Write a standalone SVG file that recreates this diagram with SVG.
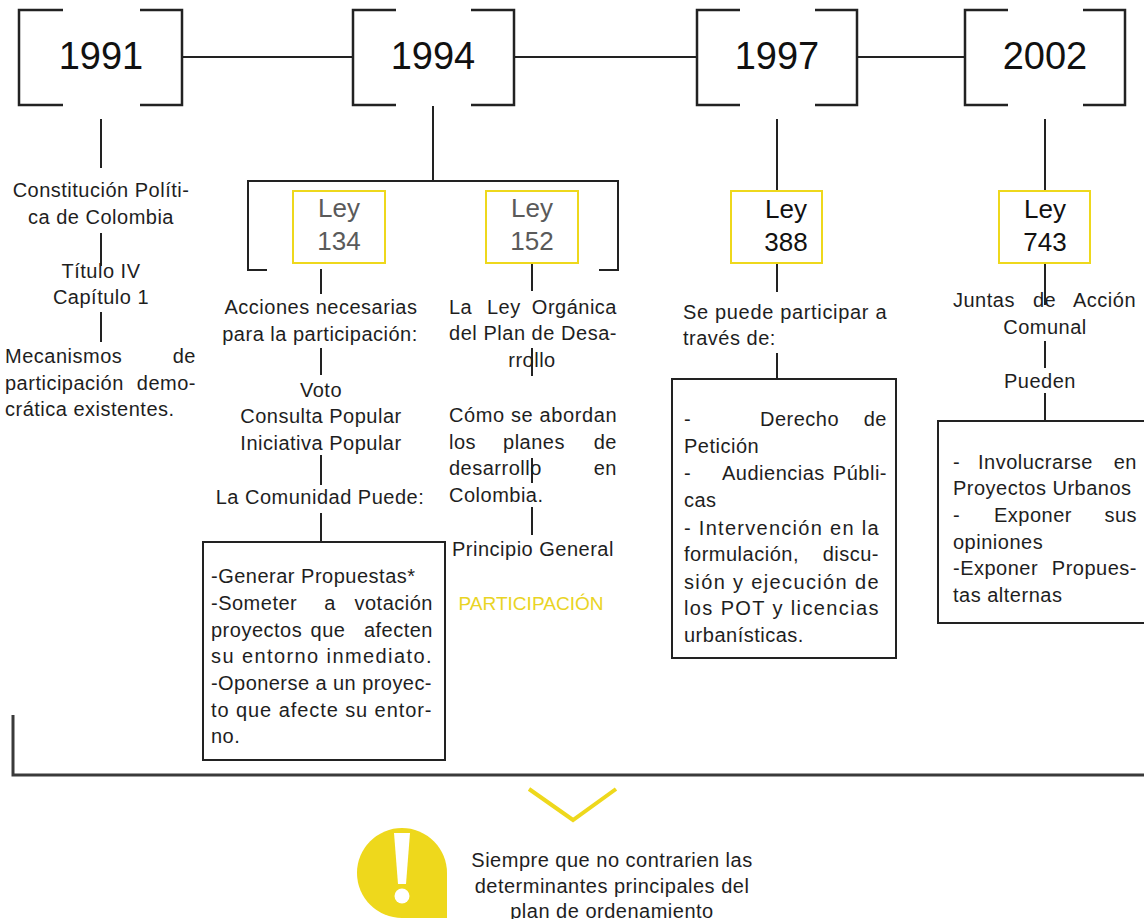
<svg xmlns="http://www.w3.org/2000/svg" width="1144" height="919" viewBox="0 0 1144 919">
<style>
.t{font-family:"Liberation Sans",Arial,sans-serif;font-size:20px;letter-spacing:0.5px;fill:#1e1e1e}
.c{text-anchor:middle}
.e{text-anchor:end}
.yr{font-family:"Liberation Sans",Arial,sans-serif;font-size:38px;fill:#111;text-anchor:middle}
.ley{font-family:"Liberation Sans",Arial,sans-serif;font-size:26px;text-anchor:middle;fill:#111}
.grey{fill:#5a5a5a}
.ln{stroke:#222;stroke-width:2;fill:none}
.br{stroke:#222;stroke-width:2.5;fill:none}
.yb{fill:#fff;stroke:#EED81C;stroke-width:2}
.bx{fill:#fff;stroke:#222;stroke-width:2}
.yel{fill:#E9D424}
</style>
<rect width="1144" height="919" fill="#fff"/>

<g id="connectors">
<path class="ln" d="M182,57 H353 M514,57 H697 M857,57 H965"/>
<path class="ln" d="M101,119 V168 M101,233 V266 M101,312 V342"/>
<path class="ln" d="M433,106 V181 M267,270 H248 V181 H618 V270 H599"/>
<path class="ln" d="M321,269 V294 M321,348 V375 M321,455 V485 M321,513 V542"/>
<path class="ln" d="M532,263 V291 M532,348 V376 M532,458 V483 M532,507 V535"/>
<path class="ln" d="M777,119 V191 M777,264 V292 M777,353 V379"/>
<path class="ln" d="M1045,119 V191 M1045,264 V305 M1045,341 V368 M1045,393 V421"/>
<path class="ln" d="M13,715 V775 H1144" style="stroke:#3a3a3a;stroke-width:3"/>
</g>

<g id="y1991">
<path class="br" d="M63,10 H19 V105 H63 M140,10 H182 V105 H140"/>
<text class="yr" x="101" y="69">1991</text>
</g>
<g id="y1994">
<path class="br" d="M396,10 H353 V105 H396 M471,10 H514 V105 H471"/>
<text class="yr" x="433" y="69">1994</text>
</g>
<g id="y1997">
<path class="br" d="M740,10 H697 V105 H740 M815,10 H857 V105 H815"/>
<text class="yr" x="777" y="69">1997</text>
</g>
<g id="y2002">
<path class="br" d="M1008,10 H965 V105 H1008 M1083,10 H1125 V105 H1083"/>
<text class="yr" x="1045" y="69">2002</text>
</g>

<g id="constitucion">
<text class="t c" x="101" y="197">Constitución Políti-</text>
<text class="t c" x="101" y="224">ca de Colombia</text>
<text class="t c" x="101" y="278">Título IV</text>
<text class="t c" x="101" y="304">Capítulo 1</text>
<text class="t" x="5" y="363">Mecanismos</text><text class="t e" x="196" y="363">de</text>
<text class="t" x="5" y="390">participación</text><text class="t e" x="196" y="390">demo-</text>
<text class="t" x="5" y="416">crática existentes.</text>
</g>

<g id="ley134">
<rect class="yb" x="293" y="191" width="92" height="72"/>
<text class="ley grey" x="339" y="217">Ley</text>
<text class="ley grey" x="339" y="250">134</text>
</g>
<g id="acciones">
<text class="t c" x="321" y="314">Acciones necesarias</text>
<text class="t c" x="320" y="341">para la participación:</text>
<text class="t c" x="321" y="397">Voto</text>
<text class="t c" x="321" y="423">Consulta Popular</text>
<text class="t c" x="321" y="450">Iniciativa Popular</text>
<text class="t c" x="320" y="504">La Comunidad Puede:</text>
</g>
<g id="comunidad-box">
<rect class="bx" x="203" y="542" width="242" height="218"/>
<text class="t" x="211" y="583">-Generar Propuestas*</text>
<text class="t" x="211" y="610">-Someter</text><text class="t c" x="330" y="610">a</text><text class="t e" x="433" y="610">votación</text>
<text class="t" x="211" y="637">proyectos</text><text class="t c" x="328" y="637">que</text><text class="t e" x="433" y="637">afecten</text>
<text class="t" x="211" y="663" textLength="221" lengthAdjust="spacing">su entorno inmediato.</text>
<text class="t" x="211" y="690" textLength="221" lengthAdjust="spacing">-Oponerse a un proyec-</text>
<text class="t" x="211" y="717" textLength="221" lengthAdjust="spacing">to que afecte su entor-</text>
<text class="t" x="211" y="743">no.</text>
</g>

<g id="ley152">
<rect class="yb" x="486" y="191" width="92" height="72"/>
<text class="ley grey" x="532" y="217">Ley</text>
<text class="ley grey" x="532" y="250">152</text>
</g>
<g id="organica">
<text class="t" x="449" y="314">La</text><text class="t" x="487" y="314">Ley</text><text class="t e" x="617" y="314">Orgánica</text>
<text class="t" x="449" y="340" textLength="168" lengthAdjust="spacing">del Plan de Desa-</text>
<text class="t c" x="532" y="367">rrollo</text>
<text class="t" x="449" y="422" textLength="168" lengthAdjust="spacing">Cómo se abordan</text>
<text class="t" x="449" y="449">los</text><text class="t c" x="534" y="449">planes</text><text class="t e" x="617" y="449">de</text>
<text class="t" x="449" y="475">desarrollo</text><text class="t e" x="617" y="475">en</text>
<text class="t" x="449" y="502">Colombia.</text>
<text class="t c" x="533" y="556">Principio General</text>
<text class="t c yel" x="531" y="610" style="font-size:19px;letter-spacing:0" textLength="145" lengthAdjust="spacingAndGlyphs">PARTICIPACIÓN</text>
</g>

<g id="ley388">
<rect class="yb" x="731" y="191" width="91" height="72"/>
<text class="ley" x="786" y="218">Ley</text>
<text class="ley" x="786" y="251">388</text>
</g>
<g id="participar">
<text class="t" x="683" y="319" textLength="204" lengthAdjust="spacing">Se puede participar a</text>
<text class="t" x="683" y="345">través de:</text>
</g>
<g id="participar-box">
<rect class="bx" x="672" y="379" width="224" height="279"/>
<text class="t" x="684" y="426">-</text><text class="t" x="760" y="426">Derecho</text><text class="t e" x="887" y="426">de</text>
<text class="t" x="684" y="453">Petición</text>
<text class="t" x="684" y="480">-</text><text class="t" x="722" y="480">Audiencias</text><text class="t e" x="887" y="480">Públi-</text>
<text class="t" x="684" y="507">cas</text>
<text class="t" x="684" y="535" textLength="195" lengthAdjust="spacing">- Intervención en la</text>
<text class="t" x="684" y="561">formulación,</text><text class="t e" x="879" y="561">discu-</text>
<text class="t" x="684" y="589" textLength="195" lengthAdjust="spacing">sión y ejecución de</text>
<text class="t" x="684" y="615" textLength="195" lengthAdjust="spacing">los POT y licencias</text>
<text class="t" x="684" y="642">urbanísticas.</text>
</g>

<g id="ley743">
<rect class="yb" x="999" y="191" width="91" height="72"/>
<text class="ley" x="1045" y="218">Ley</text>
<text class="ley" x="1045" y="251">743</text>
</g>
<g id="juntas">
<text class="t" x="953" y="307">Juntas</text><text class="t" x="1033" y="307">de</text><text class="t e" x="1136" y="307">Acción</text>
<text class="t c" x="1045" y="334">Comunal</text>
<text class="t c" x="1040" y="388">Pueden</text>
</g>
<g id="juntas-box">
<rect class="bx" x="938" y="421" width="214" height="202"/>
<text class="t" x="953" y="469">-</text><text class="t" x="978" y="469">Involucrarse</text><text class="t e" x="1137" y="469">en</text>
<text class="t" x="953" y="495">Proyectos Urbanos</text>
<text class="t" x="953" y="522">-</text><text class="t" x="994" y="522">Exponer</text><text class="t e" x="1137" y="522">sus</text>
<text class="t" x="953" y="549">opiniones</text>
<text class="t" x="953" y="575">-Exponer</text><text class="t e" x="1137" y="575">Propues-</text>
<text class="t" x="953" y="602">tas alternas</text>
</g>

<g id="nota">
<path d="M529,789 L573,820 L616,789" fill="none" stroke="#EED81C" stroke-width="4"/>
<path d="M402,918 A45,45 0 1 1 447,873 L447,918 Z" fill="#EED81C"/>
<path d="M394,833 L410,833 L406,884 L398,884 Z" fill="#fff"/>
<circle cx="402" cy="896" r="7.5" fill="#fff"/>
<text class="t c" x="612" y="867">Siempre que no contrarien las</text>
<text class="t c" x="612" y="893">determinantes principales del</text>
<text class="t c" x="612" y="918">plan de ordenamiento</text>
</g>
</svg>
